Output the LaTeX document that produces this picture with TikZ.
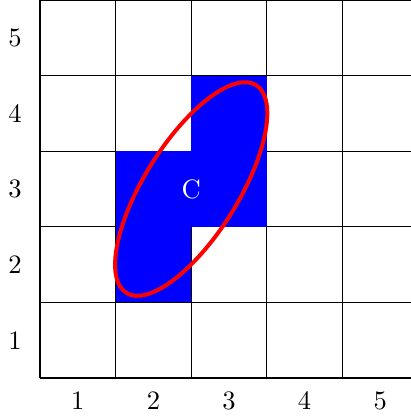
\documentclass[tikz,border=0pt]{standalone}
\begin{document}
\begin{tikzpicture}[x=1cm,y=1cm,
  cellfill/.style={fill=blue},
  gridline/.style={black, line width=0.4pt},
  ring/.style={draw=red, line width=1.5pt},
  lbl/.style={font=\normalsize}]
\useasboundingbox (-0.529,-0.542) rectangle (4.907,5.0);
\draw[gridline] (0,0) grid (5,5);
\fill[cellfill] (1,1) rectangle (2,3);
\fill[cellfill] (2,2) rectangle (3,4);
\node[text=white] (c) at (2,2.5) {C};
\draw[ring] (c.center) ellipse [x radius=0.62, y radius=1.62, rotate=-32];
\foreach \i in {1,...,5} {
  \node[lbl] (x\i) at (\i-0.5,-0.3) {\i};
  \node[lbl] (y\i) at (-0.33,\i-0.5) {\i};
}
\end{tikzpicture}
\end{document}
